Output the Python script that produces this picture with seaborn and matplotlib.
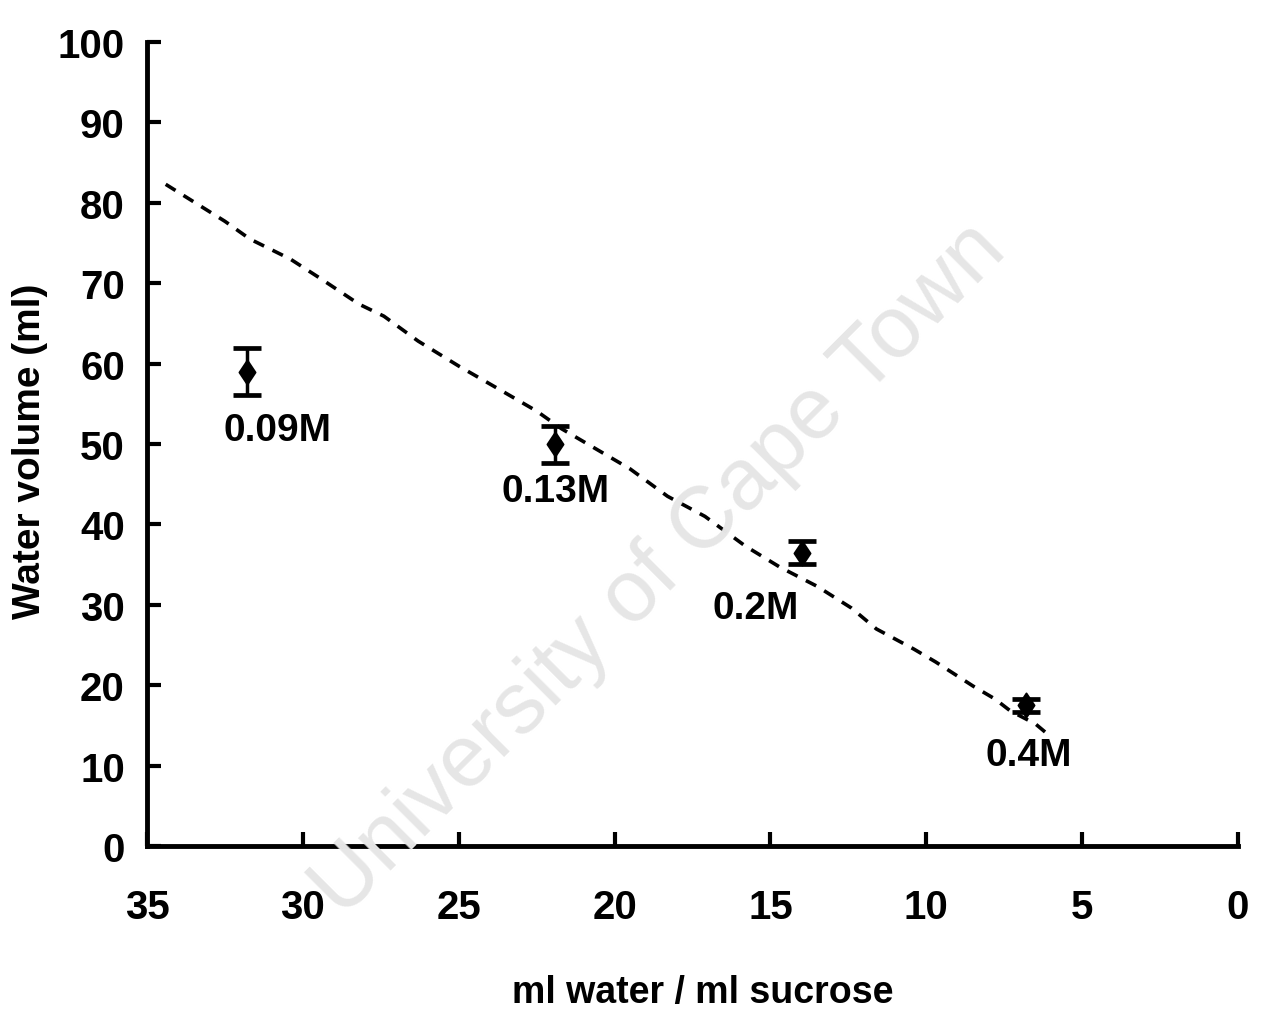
import matplotlib
matplotlib.use("Agg")
import matplotlib.pyplot as plt
from matplotlib.markers import MarkerStyle
from matplotlib.path import Path
import seaborn as sns
import pandas as pd

# ---- data ----
conc_labels = ["0.09M", "0.13M", "0.2M", "0.4M"]
point_x = [31.8, 21.9, 14.0, 6.8]
point_y = [59.0, 50.0, 36.5, 17.5]
point_err = [2.9, 2.3, 1.4, 0.8]

line_x = [34.4, 32.5, 31.7, 30.4, 29.4, 28.2, 27.4, 26.3, 25.0, 23.7, 22.5,
          21.7, 20.6, 19.5, 18.3, 17.1, 15.8, 14.7, 13.5, 12.4, 11.6, 10.4,
          9.7, 8.5, 7.8, 7.3, 6.5, 6.1]
line_y = [82.3, 77.7, 75.5, 73.0, 70.5, 67.4, 65.9, 62.8, 59.7, 56.8, 54.1,
          51.9, 49.4, 46.9, 43.5, 41.0, 37.3, 34.7, 32.3, 29.6, 27.0, 24.5,
          22.9, 19.9, 18.3, 16.8, 15.2, 13.9]

x_ticks = [35, 30, 25, 20, 15, 10, 5, 0]
y_ticks = [0, 10, 20, 30, 40, 50, 60, 70, 80, 90, 100]
x_label = "ml water / ml sucrose"
y_label = "Water volume (ml)"
watermark = "University of Cape Town"

label_offsets = [(22, -42), (0, -34), (-33, -40), (2, -36)]

sns.set_style("ticks")
plt.rcParams["font.family"] = ["Liberation Sans", "DejaVu Sans"]
plt.rcParams["text.color"] = "black"
plt.rcParams["axes.labelcolor"] = "black"
plt.rcParams["xtick.color"] = "black"
plt.rcParams["ytick.color"] = "black"

fig = plt.figure(figsize=(12.64, 10.12), dpi=100)
ax = fig.add_axes([0.1163, 0.163, 0.8631, 0.7945])

# watermark
fig.text(0.522, 0.437, watermark, rotation=45, ha="center", va="center",
         rotation_mode="anchor", fontsize=63, color="#e6e6e6", zorder=0)

df_line = pd.DataFrame({"x": line_x, "y": line_y})
sns.lineplot(data=df_line, x="x", y="y", ax=ax, color="black", lw=2.6,
             linestyle=(0, (3.2, 2.6)), sort=False, estimator=None)

ax.errorbar(point_x, point_y, yerr=point_err, fmt="none", ecolor="black",
            elinewidth=2.5, capsize=10, capthick=3.4, zorder=3)

# vertically elongated diamond marker
diamond = Path([(0, 1.5), (1.0, 0), (0, -1.5), (-1.0, 0), (0, 1.5)],
               [Path.MOVETO, Path.LINETO, Path.LINETO, Path.LINETO, Path.CLOSEPOLY])
df_pts = pd.DataFrame({"x": point_x, "y": point_y})
sns.scatterplot(data=df_pts, x="x", y="y", ax=ax, marker=MarkerStyle(diamond),
                s=300, color="black", edgecolor="black", zorder=4)

for lab, x, y, off in zip(conc_labels, point_x, point_y, label_offsets):
    ax.annotate(lab, (x, y), xytext=off, textcoords="offset points",
                ha="center", va="center", fontsize=28, fontweight="bold",
                color="black")

ax.set_xlim(35, 0)
ax.set_ylim(0, 100)
ax.set_xticks(x_ticks)
ax.set_yticks(y_ticks)
ax.set_xticklabels([str(t) for t in x_ticks], fontsize=29, fontweight="bold")
ax.set_yticklabels([str(t) for t in y_ticks], fontsize=29, fontweight="bold")
ax.tick_params(direction="in", length=10, width=3, colors="black")
ax.tick_params(axis="x", pad=30)
ax.tick_params(axis="y", pad=16)

for s in ["top", "right"]:
    ax.spines[s].set_visible(False)
for s in ["left", "bottom"]:
    ax.spines[s].set_linewidth(3.5)
    ax.spines[s].set_color("black")

ax.set_xlabel(x_label, fontsize=27, fontweight="bold", va="center")
ax.xaxis.set_label_coords(0.509, -0.1816)
ax.set_ylabel(y_label, fontsize=28, fontweight="bold", va="center")
ax.yaxis.set_label_coords(-0.107, 0.4925)
ax.patch.set_alpha(0)

fig.savefig("out.png", dpi=100, facecolor="white")
